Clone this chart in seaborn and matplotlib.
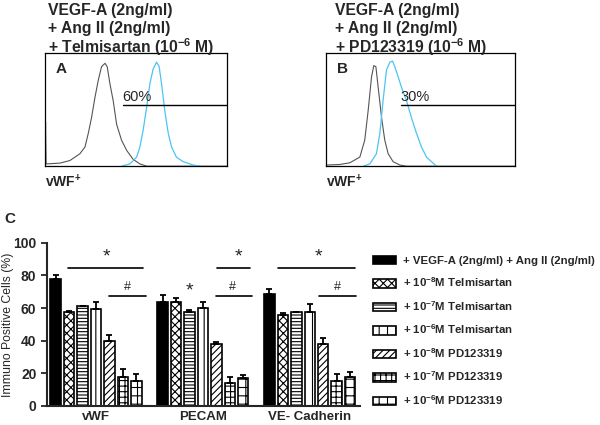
import numpy as np
import pandas as pd
import matplotlib
matplotlib.use("Agg")
import matplotlib.pyplot as plt
import seaborn as sns
from matplotlib.patches import Patch

sns.set_style("white")
plt.rcParams['font.family'] = ['Liberation Sans', 'DejaVu Sans']
plt.rcParams['mathtext.fontset'] = 'custom'
plt.rcParams['mathtext.rm'] = 'Liberation Sans:bold'
plt.rcParams['mathtext.bf'] = 'Liberation Sans:bold'
plt.rcParams['hatch.linewidth'] = 0.8

# Flow cytometry histograms (channel 0-1000, relative count 0-100)
a_gray_x = [0, 3, 6, 9, 82, 137, 192, 220, 238, 256, 275, 293, 311, 330, 342, 357, 375, 394, 421, 449, 485, 522, 559, 1000]
a_gray_y = [0, 39, 3, 2, 2.7, 5, 11, 17, 29, 43, 61, 76, 88, 91, 88, 73, 58, 37, 23, 14, 6, 2, 0, 0]
a_blue_x = [421, 467, 504, 522, 540, 559, 577, 595, 614, 628, 641, 659, 678, 696, 723, 760, 815, 852]
a_blue_y = [0, 2, 8, 17, 32, 52, 73, 86, 92, 88, 73, 49, 29, 17, 8, 4, 1, 0]
b_gray_x = [0, 74, 127, 180, 206, 224, 242, 254, 265, 277, 295, 312, 330, 356, 392, 427, 1000]
b_gray_y = [1, 1.5, 3, 8, 23, 49, 79, 89, 88, 70, 43, 23, 11, 4, 1, 0, 0]
b_blue_x = [198, 233, 268, 286, 303, 321, 339, 353, 365, 383, 400, 427, 453, 480, 506, 533, 559, 586]
b_blue_y = [0, 2, 11, 29, 58, 85, 92, 93, 88, 79, 70, 58, 43, 29, 17, 8, 4, 0]
gate_a = (427, 54, "60%")
gate_b = (397, 54, "30%")
title_a = ["VEGF-A (2ng/ml)", "+ Ang II (2ng/ml)", "+ Telmisartan (10$^{-6}$ M)"]
title_b = ["VEGF-A (2ng/ml)", "+ Ang II (2ng/ml)", "+ PD123319 (10$^{-6}$ M)"]

# Bar chart data
markers = ["vWF", "PECAM", "VE- Cadherin"]
treatments = [
    "+ VEGF-A (2ng/ml) + Ang II (2ng/ml)",
    "+ 10$^{-8}$M Telmisartan",
    "+ 10$^{-7}$M Telmisartan",
    "+ 10$^{-6}$M Telmisartan",
    "+ 10$^{-8}$M PD123319",
    "+ 10$^{-7}$M PD123319",
    "+ 10$^{-6}$M PD123319",
]
vwf_vals = [78, 57.5, 61, 59.3, 40, 17.5, 15.4]
pecam_vals = [63.5, 63.5, 57.3, 60, 37.8, 13.8, 16.8]
vecad_vals = [68.8, 55.8, 57.5, 57.5, 37.8, 15.5, 18]
vwf_sem = [2, 0.8, 0.4, 4.7, 3.5, 4.9, 4.1]
pecam_sem = [4.3, 2.5, 1.7, 3.6, 1.6, 4.1, 2.1]
vecad_sem = [2.8, 0.9, 0.2, 4.9, 3.7, 4.1, 3.0]

fills = ["black", "white", "white", "white", "white", "white", "white"]
hatches = [None, "xxxx", "-----", "||", "/////", "+++", "++"]

rows = []
for m, vals in zip(markers, [vwf_vals, pecam_vals, vecad_vals]):
    for t, v in zip(treatments, vals):
        rows.append({"marker": m, "treatment": t, "value": v})
df = pd.DataFrame(rows)
sems = np.array([vwf_sem, pecam_sem, vecad_sem]).T  # treatment x marker

fig = plt.figure(figsize=(6, 4.25), dpi=100)

# ---- Panels A and B ----
def flow_panel(rect, gx, gy, bx, by, gate, letter, title, title_x):
    ax = fig.add_axes(rect)
    sns.lineplot(x=gx, y=gy, ax=ax, color="#555555", linewidth=0.8, sort=False)
    sns.lineplot(x=bx, y=by, ax=ax, color="#4cc4f2", linewidth=0.9, sort=False)
    ax.set_xlim(0, 1000)
    ax.set_ylim(0, 100)
    ax.set_xticks([])
    ax.set_yticks([])
    for s in ax.spines.values():
        s.set_visible(True)
        s.set_color("black")
        s.set_linewidth(0.9)
    ax.plot([gate[0], 1000], [gate[1], gate[1]], color="black", linewidth=1.0)
    ax.text(gate[0], gate[1] + 1, gate[2], fontsize=10.5, va="bottom", ha="left")
    ax.text(0.06, 0.92, letter, transform=ax.transAxes, fontsize=11,
            fontweight="bold", va="top", ha="left")
    ax.text(0.0, -0.06, "vWF$^{+}$", transform=ax.transAxes, fontsize=10,
            fontweight="bold", va="top", ha="left")
    for k, line in enumerate(title):
        fig.text(title_x, 1 - (10 + 18.5 * k) / 425, line, fontsize=11.3,
                 fontweight="bold", va="center", ha="left")
    return ax

flow_panel([0.075, 0.609, 0.303, 0.266], a_gray_x, a_gray_y, a_blue_x, a_blue_y,
           gate_a, "A", title_a, 48 / 600)
flow_panel([0.543, 0.609, 0.315, 0.266], b_gray_x, b_gray_y, b_blue_x, b_blue_y,
           gate_b, "B", title_b, 335 / 600)

# ---- Panel C ----
ax = fig.add_axes([0.078, 0.045, 0.522, 0.3835])
sns.barplot(data=df, x="marker", y="value", hue="treatment", order=markers,
            hue_order=treatments, palette=["white"] * 7, width=0.88, gap=0.22,
            edgecolor="black", linewidth=1.2, errorbar=None, legend=False, ax=ax)

bar_groups = list(ax.containers)
handles = []
for i, cont in enumerate(bar_groups):
    for j, bar in enumerate(cont.patches):
        bar.set_facecolor(fills[i])
        bar.set_edgecolor("black")
        if hatches[i]:
            bar.set_hatch(hatches[i])
        x = bar.get_x() + bar.get_width() / 2
        h = bar.get_height()
        ax.errorbar(x, h, yerr=[[0], [sems[i, j]]], fmt="none", ecolor="black",
                    elinewidth=1.3, capsize=2.5, capthick=1.3)
    handles.append(Patch(facecolor=fills[i], edgecolor="black", hatch=hatches[i],
                         linewidth=1.2, label=treatments[i]))

ax.set_ylim(0, 100)
ax.set_xlim(-0.46, 2.47)
ax.set_yticks([0, 20, 40, 60, 80, 100])
ax.tick_params(axis="y", direction="out", length=4, width=1.3, left=True, labelsize=10)
ax.tick_params(axis="x", length=0, labelsize=9.5)
for lab in ax.get_xticklabels() + ax.get_yticklabels():
    lab.set_fontweight("bold")
ax.set_xlabel("")
ax.set_ylabel("Immuno Positive Cells (%)", fontsize=8.8)
ax.yaxis.set_label_coords(-0.105, 0.5)
sns.despine(ax=ax)
ax.spines["left"].set_linewidth(1.5)
ax.spines["bottom"].set_linewidth(1.5)

# significance marks
sig_lines = [(-0.26, 0.44, 84.7), (0.12, 0.47, 67.7), (1.13, 1.44, 84.7),
             (1.12, 1.46, 67.7), (1.70, 2.42, 84.7), (2.09, 2.43, 67.7)]
sig_marks = [(0.10, 86, "*"), (0.29, 69, "#"), (0.87, 65, "*"), (1.33, 86, "*"),
             (1.28, 69, "#"), (2.08, 86, "*"), (2.26, 69, "#")]
for x0, x1, y in sig_lines:
    ax.plot([x0, x1], [y, y], color="black", linewidth=1.2)
for x, y, s in sig_marks:
    ax.text(x, y, s, ha="center", va="bottom",
            fontsize=14 if s == "*" else 9)

fig.text(0.008, 0.485, "C", fontsize=11, fontweight="bold", va="center")

fig.legend(handles=handles, loc="upper left", bbox_to_anchor=(0.622, 0.398),
           frameon=False, handlelength=2.0, handleheight=0.75,
           labelspacing=0.85, handletextpad=0.6, borderpad=0, borderaxespad=0,
           prop={"weight": "bold", "size": 8.2})

fig.savefig("out.png", dpi=100)
